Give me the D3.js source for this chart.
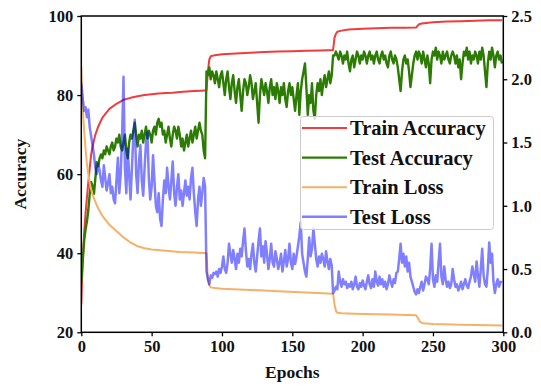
<!DOCTYPE html>
<html>
<head>
<meta charset="utf-8">
<script src="https://cdn.jsdelivr.net/npm/d3@7"></script>
<style>
  html, body { margin: 0; padding: 0; background: #fff; }
  svg { display: block; }
  text { font-family: "Liberation Serif", "Times New Roman", serif; font-weight: bold; fill: #111; }
</style>
</head>
<body>
<svg id="chart" width="541" height="386"></svg>
<script>
// Training curves, sampled at the epochs listed alongside them
const trainAccEpochs = [0,1,2,3,4,5,6,7,8,10,12,15,20,25,30,35,40,45,50,55,60,65,70,75,80,85,89,90,91,92,95,100,110,120,130,140,150,160,170,179,180,181,182,185,190,200,210,220,230,238,239,240,242,250,260,270,280,290,299];
const trainAcc = [27,38,45,50,54,58,61.5,65,67,70,72,74.3,76.5,77.8,78.8,79.3,79.7,80.0,80.2,80.4,80.5,80.6,80.8,80.9,81.0,81.1,81.2,86.0,89.0,89.8,90.1,90.3,90.5,90.7,90.9,91.0,91.1,91.2,91.3,91.4,94.5,95.5,96.0,96.3,96.6,96.8,96.9,97.0,97.0,97.1,97.5,97.9,98.1,98.4,98.6,98.7,98.8,98.9,98.9];

const trainLossEpochs = [0,1,2,3,4,5,6,7,8,10,12,15,20,25,30,35,40,45,50,60,70,80,89,90,91,92,95,100,120,140,160,179,180,181,182,185,200,220,238,240,241,243,250,270,299];
const trainLoss = [2.10,1.78,1.60,1.45,1.33,1.25,1.18,1.13,1.09,1.03,0.98,0.92,0.85,0.80,0.75,0.71,0.68,0.665,0.655,0.645,0.635,0.63,0.625,0.42,0.37,0.355,0.35,0.345,0.335,0.325,0.315,0.305,0.22,0.17,0.155,0.15,0.145,0.14,0.135,0.10,0.08,0.072,0.066,0.06,0.053];

// Test curves, one value per epoch (0..299)
const testAcc = [
  33,38,43,46,48,51,55,58,57,55, 59,63,62,64,65,64,66,65,67,66,
  65,67,68,66,67,69,68,70,67,66, 68,70,66,64,68,70,69,71,73,70,
  67,70,69,71,68,70,72,69,71,70, 68,71,72,70,73,74,72,73,70,71,
  68,70,72,69,67,70,72,71,69,72, 70,67,69,66,68,70,67,69,71,68,
  70,72,69,71,73,71,70,66,64,86,
  85,87,84,86,85,83,86,84,82,85, 86,83,80,84,86,82,79,83,85,81,
  78,82,84,80,76,81,84,83,80,82, 85,83,79,81,83,78,73,80,84,82,
  80,83,81,78,82,84,80,82,79,83, 81,78,82,80,83,79,77,81,83,80,
  82,79,76,80,83,75,81,84,86,88, 82,75,80,78,83,76,74,80,83,81,
  84,80,83,85,82,84,86,83,85,90,
  90,91,90,89,91,90,88,90,89,91, 88,86,89,90,87,89,91,90,88,90,
  89,91,90,88,90,91,89,90,88,90, 91,89,88,90,91,89,90,88,87,90,
  91,89,88,90,89,87,84,81,86,89, 90,88,89,86,82,85,88,90,91,89,
  91,90,88,91,89,87,90,88,83,89, 91,90,92,89,91,90,88,91,89,90,
  91,89,88,90,91,90,88,90,87,89, 84,88,91,90,92,89,91,88,90,89,
  91,90,88,91,89,92,90,86,82,88, 91,89,92,90,87,90,91,89,90,88
];

const testLoss = [
  1.97,1.85,1.75,1.78,1.70,1.76,1.62,1.55,1.48,1.40, 1.30,1.25,1.33,1.28,1.20,1.15,1.32,1.22,1.12,1.18,
  1.25,1.10,1.15,1.05,1.02,1.20,1.38,1.10,1.25,1.55, 2.02,1.30,1.10,1.45,1.25,1.05,1.30,1.55,1.68,1.25,
  1.10,1.35,1.48,1.20,1.08,1.30,1.50,1.58,1.22,1.05, 1.15,1.40,1.20,1.00,0.95,1.10,0.90,0.84,1.05,1.20,
  1.10,1.30,1.15,1.05,1.20,1.35,1.10,1.00,1.15,1.25, 1.05,1.12,1.00,1.10,1.20,1.08,1.15,1.05,1.22,1.30,
  1.10,0.95,0.84,1.05,1.15,1.00,1.10,1.22,1.15,0.48,
  0.42,0.38,0.45,0.43,0.47,0.46,0.48,0.44,0.50,0.47, 0.52,0.60,0.50,0.47,0.55,0.70,0.62,0.55,0.65,0.58,
  0.50,0.62,0.55,0.66,0.60,0.72,0.82,0.65,0.52,0.58, 0.50,0.62,0.70,0.55,0.48,0.60,0.72,0.82,0.60,0.68,
  0.55,0.72,0.62,0.50,0.58,0.70,0.55,0.52,0.64,0.58, 0.50,0.55,0.62,0.48,0.56,0.65,0.52,0.58,0.70,0.55,
  0.50,0.62,0.54,0.60,0.68,0.76,0.87,0.62,0.55,0.48, 0.44,0.58,0.75,0.60,0.66,0.82,0.70,0.58,0.52,0.60,
  0.55,0.62,0.58,0.52,0.64,0.56,0.50,0.58,0.53,0.31,
  0.33,0.36,0.34,0.48,0.40,0.36,0.42,0.38,0.40,0.35, 0.38,0.36,0.40,0.34,0.38,0.44,0.36,0.34,0.39,0.36,
  0.41,0.37,0.34,0.40,0.45,0.38,0.35,0.42,0.36,0.48, 0.40,0.37,0.44,0.38,0.42,0.36,0.40,0.34,0.38,0.45,
  0.40,0.36,0.42,0.39,0.47,0.48,0.58,0.70,0.55,0.62, 0.52,0.60,0.48,0.55,0.44,0.40,0.36,0.32,0.30,0.34,
  0.31,0.36,0.40,0.33,0.38,0.44,0.42,0.38,0.50,0.70, 0.42,0.36,0.45,0.40,0.55,0.70,0.44,0.38,0.52,0.42,
  0.36,0.40,0.35,0.38,0.50,0.42,0.36,0.38,0.33,0.36, 0.40,0.34,0.38,0.42,0.37,0.35,0.40,0.44,0.52,0.46,
  0.40,0.56,0.45,0.36,0.50,0.66,0.45,0.38,0.36,0.50, 0.71,0.55,0.62,0.40,0.31,0.38,0.42,0.36,0.40,0.39
];

const xTicks = [0, 50, 100, 150, 200, 250, 300];
const accTicks = [20, 40, 60, 80, 100];
const lossTicks = [0.0, 0.5, 1.0, 1.5, 2.0, 2.5];

const seriesNames = ["Train Accuracy", "Test Accuracy", "Train Loss", "Test Loss"];
const seriesColors = ["#f03c3c", "#2c7c04", "#f6b068", "rgba(0,0,255,0.5)"];
const seriesWidths = [2.0, 2.4, 2.0, 2.5];

const svg = d3.select("#chart");
const plotL = 81.3, plotR = 503.3, plotT = 16, plotB = 332.3;

const x = d3.scaleLinear().domain([0, 300]).range([plotL, plotR]);
const yAcc = d3.scaleLinear().domain([20, 100]).range([plotB, plotT]);
const yLoss = d3.scaleLinear().domain([0, 2.5]).range([plotB, plotT]);

svg.append("defs").append("clipPath").attr("id", "plot-clip")
  .append("rect").attr("x", plotL).attr("y", plotT).attr("width", plotR - plotL).attr("height", plotB - plotT);

const plot = svg.append("g").attr("clip-path", "url(#plot-clip)");

function drawSeries(xs, ys, yScale, color, width) {
  const pts = ys.map((v, i) => [xs ? xs[i] : i, v]);
  plot.append("path")
    .datum(pts)
    .attr("fill", "none")
    .attr("stroke", color)
    .attr("stroke-width", width)
    .attr("stroke-linejoin", "round")
    .attr("d", d3.line().x(d => x(d[0])).y(d => yScale(d[1])));
}

drawSeries(trainAccEpochs, trainAcc, yAcc, seriesColors[0], seriesWidths[0]);
drawSeries(null, testAcc, yAcc, seriesColors[1], seriesWidths[1]);
drawSeries(trainLossEpochs, trainLoss, yLoss, seriesColors[2], seriesWidths[2]);
drawSeries(null, testLoss, yLoss, seriesColors[3], seriesWidths[3]);

// Frame
svg.append("rect")
  .attr("x", plotL).attr("y", plotT).attr("width", plotR - plotL).attr("height", plotB - plotT)
  .attr("fill", "none").attr("stroke", "#000").attr("stroke-width", 1.5);

const fontSize = 16.5;

const xAxis = svg.append("g").attr("transform", `translate(0,${plotB})`)
  .call(d3.axisBottom(x).tickValues(xTicks).tickSize(4).tickPadding(4).tickFormat(d3.format("d")));
const lAxis = svg.append("g").attr("transform", `translate(${plotL},0)`)
  .call(d3.axisLeft(yAcc).tickValues(accTicks).tickSize(4).tickPadding(4).tickFormat(d3.format("d")));
const rAxis = svg.append("g").attr("transform", `translate(${plotR},0)`)
  .call(d3.axisRight(yLoss).tickValues(lossTicks).tickSize(4).tickPadding(4).tickFormat(d3.format(".1f")));

[xAxis, lAxis, rAxis].forEach(g => {
  g.select(".domain").remove();
  g.selectAll(".tick line").attr("stroke", "#000").attr("stroke-width", 1.3);
  g.selectAll(".tick text").attr("font-family", "Liberation Serif, serif")
    .attr("font-weight", "bold").attr("font-size", fontSize).attr("fill", "#111");
});

svg.append("text")
  .attr("x", (plotL + plotR) / 2).attr("y", 378)
  .attr("text-anchor", "middle").attr("font-size", 17.5)
  .text("Epochs");

svg.append("text")
  .attr("transform", `translate(26,${(plotT + plotB) / 2}) rotate(-90)`)
  .attr("text-anchor", "middle").attr("font-size", 17.5)
  .text("Accuracy");

// Legend
const legend = svg.append("g");
legend.append("rect")
  .attr("x", 300.5).attr("y", 116.5).attr("width", 193).attr("height", 113).attr("rx", 3)
  .attr("fill", "rgba(255,255,255,0.8)").attr("stroke", "#cccccc").attr("stroke-width", 1);

seriesNames.forEach((name, i) => {
  const cy = 128 + i * 29.6;
  legend.append("line")
    .attr("x1", 302).attr("x2", 347).attr("y1", cy).attr("y2", cy)
    .attr("stroke", seriesColors[i]).attr("stroke-width", seriesWidths[i]);
  legend.append("text")
    .attr("x", 350).attr("y", cy).attr("dy", "0.35em")
    .attr("font-size", 20.5)
    .text(name);
});
</script>
</body>
</html>
